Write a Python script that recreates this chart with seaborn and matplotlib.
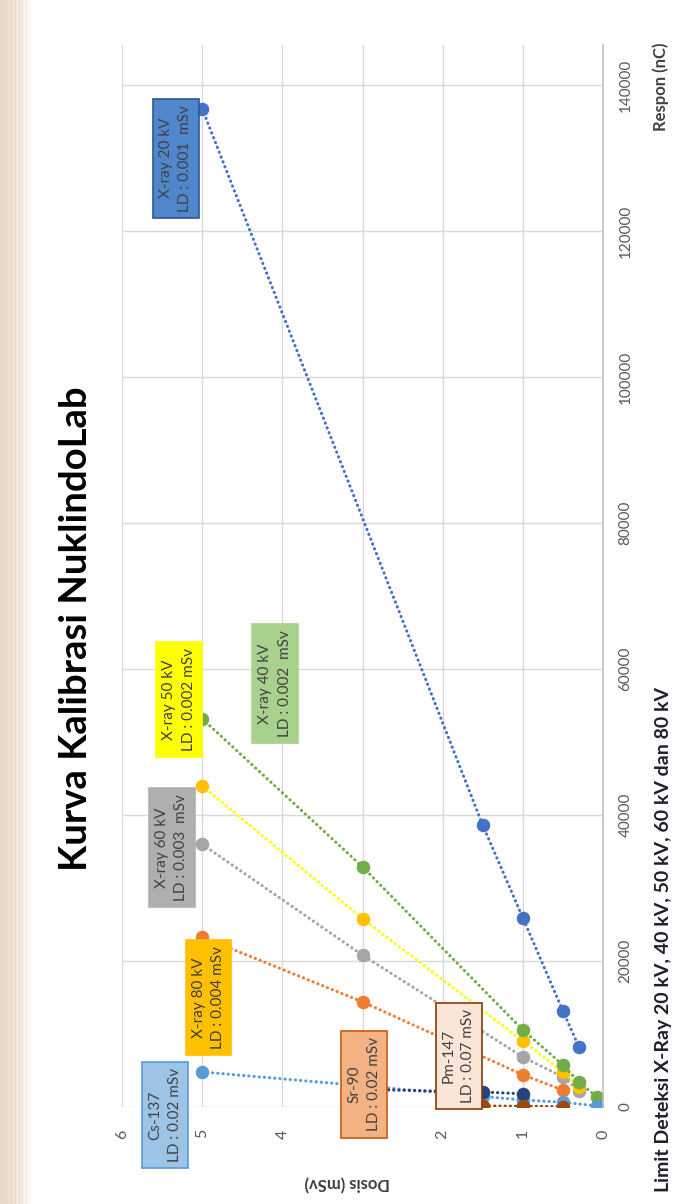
import numpy as np
import pandas as pd
import matplotlib
matplotlib.use('Agg')
import matplotlib.pyplot as plt
import seaborn as sns
from matplotlib.patches import Rectangle


# Data read from the (rotated) calibration chart: dose (mSv) vs response (nC)
dosis_20kv = [5, 1.5, 1, 0.5, 0.3]
respon_20kv = [136800, 38600, 25900, 13150, 8200]
dosis_80kv = [5, 3, 1, 0.5]
respon_80kv = [23300, 14400, 4400, 2300]
dosis_60kv = [5, 3, 1, 0.5, 0.3]
respon_60kv = [36000, 20800, 6850, 4100, 2200]
dosis_50kv = [5, 3, 1, 0.5, 0.3]
respon_50kv = [44000, 25800, 9050, 4800, 2700]
dosis_40kv = [5, 3, 1, 0.5, 0.3, 0.08]
respon_40kv = [53200, 32900, 10550, 5750, 3400, 1400]
dosis_cs = [5, 3, 1.5, 1, 0.5, 0.08]
respon_cs = [4800, 2900, 1450, 950, 650, 150]
dosis_sr = [3, 1.5, 1]
respon_sr = [2400, 2050, 1800]
dosis_pm = [2, 1.5, 1, 0.5]
respon_pm = [250, 150, 100, 60]

sumber = ['X-ray 20 kV', 'X-ray 80 kV', 'X-ray 60 kV', 'X-ray 50 kV',
          'X-ray 40 kV', 'Cs-137', 'Sr-90', 'Pm-147']
ld_text = ['LD : 0.001  mSv', 'LD : 0.004 mSv', 'LD : 0.003  mSv', 'LD : 0.002 mSv',
           'LD : 0.002  mSv', 'LD : 0.02 mSv', 'LD : 0.02 mSv', 'LD : 0.07 mSv']
dosis_tick = [0, 1, 2, 3, 4, 5, 6]
respon_tick = [0, 20000, 40000, 60000, 80000, 100000, 120000, 140000]

all_dosis = [dosis_20kv, dosis_80kv, dosis_60kv, dosis_50kv, dosis_40kv, dosis_cs, dosis_sr, dosis_pm]
all_respon = [respon_20kv, respon_80kv, respon_60kv, respon_50kv, respon_40kv, respon_cs, respon_sr, respon_pm]

rows = []
for name, ds, rs in zip(sumber, all_dosis, all_respon):
    for d, r in zip(ds, rs):
        rows.append({'Sumber': name, 'Dosis': d, 'Respon': r})
df = pd.DataFrame(rows)

# styles
line_col = {'X-ray 20 kV': '#4472C4', 'X-ray 80 kV': '#ED7D31', 'X-ray 60 kV': '#A5A5A5',
            'X-ray 50 kV': '#FFFF00', 'X-ray 40 kV': '#70AD47', 'Cs-137': '#5B9BD5',
            'Sr-90': '#264478', 'Pm-147': '#9E480E'}
dot_col = dict(line_col)
dot_col['X-ray 50 kV'] = '#FFC000'
box_face = {'X-ray 20 kV': '#4F86CC', 'X-ray 80 kV': '#FFC000', 'X-ray 60 kV': '#AFAFAF',
            'X-ray 50 kV': '#FFFF00', 'X-ray 40 kV': '#A9D18E', 'Cs-137': '#9DC3E6',
            'Sr-90': '#F4B183', 'Pm-147': '#FBE5D6'}
box_edge = {'X-ray 20 kV': '#2F5597', 'X-ray 80 kV': '#FFC000', 'X-ray 60 kV': '#AFAFAF',
            'X-ray 50 kV': '#FFFF00', 'X-ray 40 kV': '#A9D18E', 'Cs-137': '#5B9BD5',
            'Sr-90': '#C55A11', 'Pm-147': '#843C0C'}
# label box centres (dosis, respon)
box_pos = {'X-ray 20 kV': (5.33, 130000), 'X-ray 80 kV': (4.92, 15000),
           'X-ray 60 kV': (5.38, 35500), 'X-ray 50 kV': (5.29, 55800),
           'X-ray 40 kV': (4.09, 58000), 'Cs-137': (5.46, -1100),
           'Sr-90': (2.98, 3100), 'Pm-147': (1.80, 7000)}

sns.set_style('white')
plt.rcParams['font.family'] = ['Lato', 'DejaVu Sans']

fig = plt.figure(figsize=(6.74, 12.04), dpi=100)
# beige slide edge on the left
for i, a in enumerate(np.linspace(1.0, 0.15, 8)):
    fig.patches.append(Rectangle((i * 0.0055, 0), 0.0055, 1, transform=fig.transFigure,
                                 color='#E6D9C6', alpha=a, zorder=0))

ax = fig.add_axes([0.181, 0.0806, 0.8947 - 0.181, 0.9626 - 0.0806])

for name in sumber:
    sub = df[df['Sumber'] == name]
    sns.lineplot(data=sub, x='Dosis', y='Respon', sort=False, estimator=None, ax=ax,
                 color=line_col[name], linestyle=(0, (0.1, 1.6)), linewidth=2.2,
                 dash_capstyle='round', marker='o', markersize=9,
                 markerfacecolor=dot_col[name], markeredgecolor=dot_col[name],
                 legend=False)

for name, ld in zip(sumber, ld_text):
    d, r = box_pos[name]
    ax.text(d, r, f'{name}\n{ld}', rotation=90, ha='center', va='center',
            fontsize=11, color='#404040', linespacing=1.5, zorder=6, clip_on=False,
            bbox=dict(boxstyle='square,pad=0.4', facecolor=box_face[name],
                      edgecolor=box_edge[name], linewidth=1.2))

ax.set_xlim(6, 0)
ax.set_ylim(0, 145500)
ax.set_xticks(dosis_tick)
ax.set_xticklabels([str(t) for t in dosis_tick])
ax.set_yticks(respon_tick)
ax.set_yticklabels([str(t) for t in respon_tick])
ax.yaxis.tick_right()
ax.tick_params(axis='x', labelrotation=90, pad=16, length=0, labelsize=11.5, labelcolor='#595959')
ax.tick_params(axis='y', labelrotation=90, pad=11, length=0, labelsize=11, labelcolor='#595959')
for lbl in ax.get_yticklabels():
    lbl.set_va('center')
ax.set_axisbelow(True)
ax.grid(True, color='#D9D9D9', linewidth=1)
for s in ['top', 'left', 'bottom']:
    ax.spines[s].set_visible(False)
ax.spines['right'].set_color('#BFBFBF')
ax.spines['right'].set_linewidth(1.2)

ax.set_xlabel('Dosis (mSv)', fontsize=12, fontweight='bold', color='#404040')
ax.xaxis.label.set(rotation=180, ha='center', va='center')
ax.xaxis.set_label_coords(0.468, -0.0716)
ax.set_ylabel('Respon (nC)', fontsize=12, fontweight='bold', color='#404040')
ax.yaxis.set_label_position('right')
ax.yaxis.label.set(rotation=90, ha='center', va='center')
ax.yaxis.set_label_coords(1.12, 0.961)

fig.text(76 / 674, 1 - 629 / 1204, 'Kurva Kalibrasi NuklindoLab', rotation=90,
         ha='center', va='center', fontsize=27.5, fontweight='bold', color='black')
fig.text(663 / 674, 1 - 940 / 1204, 'Limit Deteksi X-Ray 20 kV, 40 kV, 50 kV, 60 kV dan 80 kV',
         rotation=90, ha='center', va='center', fontsize=14, fontweight='bold', color='#1F1F2E')

fig.savefig('out.png', dpi=100)
